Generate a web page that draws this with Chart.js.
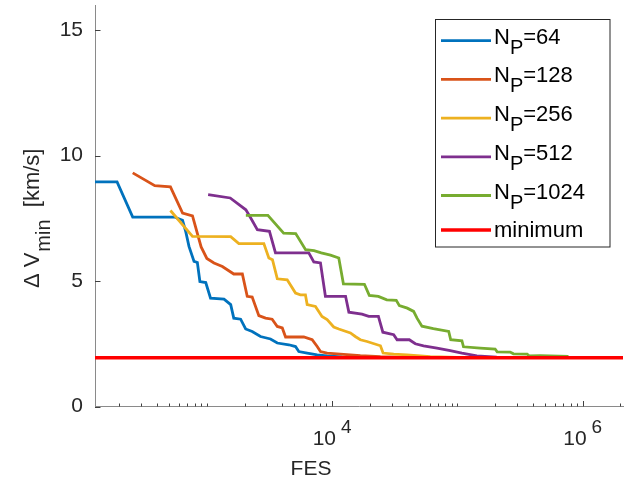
<!DOCTYPE html>
<html>
<head>
<meta charset="utf-8">
<script src="https://cdn.jsdelivr.net/npm/chart.js@4"></script>
<style>
html,body{margin:0;padding:0;background:#fff;}
#wrap{width:628px;height:481px;}
</style>
</head>
<body>
<div id="wrap"><canvas id="c" width="628" height="481"></canvas></div>
<script>
// ---------- data ----------
const seriesNames = ['64', '128', '256', '512', '1024'];
const minimumLabel = 'minimum';

const fes64 = [128, 192, 256, 550, 640, 680, 720, 790, 840, 880, 980, 1070, 1370, 1550, 1640, 1860, 2040, 2300, 2680, 3220, 3650, 4510, 5100, 5420, 6320, 7600, 9120, 12000, 16000, 40000];
const dv64  = [8.95, 8.95, 7.55, 7.55, 7.42, 6.95, 6.38, 5.78, 5.74, 4.98, 4.94, 4.32, 4.28, 4.06, 3.52, 3.48, 3.09, 2.99, 2.79, 2.69, 2.53, 2.46, 2.39, 2.19, 2.13, 2.06, 2.02, 1.98, 1.96, 1.95];

const fes128 = [256, 384, 512, 640, 768, 900, 1000, 1140, 1330, 1640, 1920, 2100, 2300, 2600, 2940, 3320, 3650, 4000, 4250, 5940, 6930, 7600, 8070, 9120, 11600, 16800, 24300, 40000, 100000];
const dv128  = [9.31, 8.80, 8.75, 7.71, 7.60, 6.36, 5.90, 5.72, 5.58, 5.28, 5.28, 4.39, 4.36, 3.62, 3.52, 3.48, 3.19, 3.13, 2.77, 2.77, 2.66, 2.39, 2.19, 2.13, 2.09, 2.03, 1.99, 1.96, 1.95];

const fes256 = [512, 768, 1550, 1800, 2850, 3125, 3340, 3650, 4380, 5100, 5580, 6120, 6320, 7360, 8300, 9120, 10300, 11300, 14000, 15300, 16800, 19000, 24300, 25500, 31000, 39600, 60700, 100000, 200000];
const dv256  = [7.81, 6.78, 6.77, 6.49, 6.49, 5.92, 5.85, 5.09, 5.05, 4.52, 4.45, 4.45, 4.06, 3.99, 3.59, 3.46, 3.17, 3.09, 2.93, 2.79, 2.66, 2.59, 2.42, 2.13, 2.09, 2.06, 1.99, 1.96, 1.95];

const fes512 = [1024, 1536, 2048, 2240, 2530, 3160, 3530, 6510, 7140, 8070, 8840, 12800, 13600, 17300, 19600, 23400, 25400, 31000, 33000, 41300, 46100, 53700, 68700, 87600, 108600, 143000, 206000, 400000];
const dv512  = [8.44, 8.31, 7.84, 7.51, 7.05, 6.98, 6.12, 6.12, 5.76, 5.72, 4.39, 4.39, 3.76, 3.68, 3.59, 3.59, 2.96, 2.86, 2.66, 2.66, 2.50, 2.42, 2.33, 2.23, 2.13, 2.02, 1.97, 1.95];

const fes1024 = [2048, 3070, 4100, 5120, 6140, 7170, 8190, 9700, 11300, 12300, 18100, 19800, 23400, 27300, 32500, 34400, 39800, 44700, 47600, 52100, 64200, 85200, 88400, 108600, 111800, 152000, 200000, 207600, 263500, 280000, 360000, 373000, 457000, 770000];
const dv1024  = [7.62, 7.62, 6.91, 6.89, 6.25, 6.21, 6.12, 6.03, 5.92, 4.89, 4.87, 4.43, 4.39, 4.25, 4.23, 4.02, 3.92, 3.79, 3.52, 3.20, 3.10, 2.99, 2.66, 2.62, 2.38, 2.33, 2.29, 2.18, 2.17, 2.10, 2.09, 2.02, 2.03, 2.00];

const minFes = [128, 2097152];
const minDv  = [1.94, 1.94];

const xMin = 128, xMax = 2097152;
const yMin = 0, yMax = 16;
const yTickValues = [0, 5, 10, 15];
const xLabelTicks = [10000, 1000000];
const xLabelExps = ['4', '6'];
const xTitle = 'FES';

// ---------- build ----------
const colors = ['#0072BD', '#D95319', '#EDB120', '#7E2F8E', '#77AC30'];
const fesList = [fes64, fes128, fes256, fes512, fes1024];
const dvList = [dv64, dv128, dv256, dv512, dv1024];
const zip = (a, b) => a.map((v, i) => ({x: v, y: b[i]}));

const datasets = seriesNames.map((n, i) => ({
  label: 'NP=' + n,
  data: zip(fesList[i], dvList[i]),
  borderColor: colors[i],
  backgroundColor: colors[i],
  borderWidth: 2.8,
  pointRadius: 0,
  tension: 0,
  fill: false,
  order: 6 - i
}));
datasets.push({
  label: minimumLabel,
  data: zip(minFes, minDv),
  borderColor: '#FF0000',
  backgroundColor: '#FF0000',
  borderWidth: 3.5,
  pointRadius: 0,
  tension: 0,
  fill: false,
  order: 0
});

const FONT = '"Liberation Sans", Arial, Helvetica, sans-serif';

const decor = {
  id: 'decor',
  afterDraw(chart) {
    const ctx = chart.ctx;
    const xs = chart.scales.x, ys = chart.scales.y;
    const area = chart.chartArea;
    ctx.save();
    // inward tick marks
    ctx.strokeStyle = '#404040';
    ctx.lineWidth = 1;
    ctx.beginPath();
    for (let n = 2; n <= 6; n++) {
      for (let k = 1; k <= 9; k++) {
        const v = k * Math.pow(10, n);
        if (v < xMin || v > xMax) continue;
        const px = Math.round(xs.getPixelForValue(v)) + 0.5;
        const major = xLabelTicks.includes(v);
        const len = major ? 5.5 : 3;
        ctx.moveTo(px, area.bottom);
        ctx.lineTo(px, area.bottom - len);
      }
    }
    yTickValues.forEach(v => {
      const py = Math.round(ys.getPixelForValue(v)) + 0.5;
      ctx.moveTo(area.left, py);
      ctx.lineTo(area.left + 5.5, py);
    });
    ctx.stroke();

    // x tick labels 10^n
    ctx.fillStyle = '#262626';
    ctx.textBaseline = 'alphabetic';
    ctx.textAlign = 'left';
    xLabelTicks.forEach((v, i) => {
      const px = xs.getPixelForValue(v);
      ctx.font = '21px ' + FONT;
      const w1 = ctx.measureText('10').width;
      ctx.font = '19px ' + FONT;
      const w2 = ctx.measureText(xLabelExps[i]).width;
      const gap = 5;
      const start = px - (w1 + gap + w2) / 2;
      ctx.font = '21px ' + FONT;
      ctx.fillText('10', start, 445);
      ctx.font = '19px ' + FONT;
      ctx.fillText(xLabelExps[i], start + w1 + gap, 433);
    });

    // x title
    ctx.font = '21px ' + FONT;
    ctx.textAlign = 'center';
    ctx.fillText(xTitle, 311, 475);

    // y title: ΔV_min [km/s]
    ctx.save();
    ctx.translate(39, 288);
    ctx.rotate(-Math.PI / 2);
    ctx.textAlign = 'left';
    ctx.font = '22px ' + FONT;
    let cx = 0;
    ctx.fillText('Δ', cx, 0); cx += ctx.measureText('Δ').width + 6;
    ctx.fillText('V', cx, 0); cx += ctx.measureText('V').width + 1;
    ctx.font = '20px ' + FONT;
    ctx.fillText('min', cx, 10.5); cx += ctx.measureText('min').width;
    ctx.font = '22px ' + FONT;
    ctx.fillText('  [km/s]', cx, 0);
    ctx.restore();

    // legend
    const bx = 435.5, by = 19.5, bw = 174.5, bh = 227.5;
    ctx.fillStyle = '#ffffff';
    ctx.fillRect(bx, by, bw, bh);
    ctx.strokeStyle = '#262626';
    ctx.lineWidth = 1;
    ctx.strokeRect(bx, by, bw, bh);
    const centers = [40.7, 79.4, 118.1, 156.8, 195.5, 230];
    chart.data.datasets.forEach((ds, i) => {
      const c = centers[i];
      ctx.strokeStyle = ds.borderColor;
      ctx.lineWidth = ds.borderWidth;
      ctx.beginPath();
      ctx.moveTo(441, c);
      ctx.lineTo(491, c);
      ctx.stroke();
      ctx.fillStyle = '#000000';
      ctx.textAlign = 'left';
      let tx = 494;
      if (i < seriesNames.length) {
        ctx.font = '22px ' + FONT;
        ctx.fillText('N', tx, c + 3); tx += ctx.measureText('N').width;
        ctx.font = '20px ' + FONT;
        ctx.fillText('P', tx, c + 13); tx += ctx.measureText('P').width;
        ctx.font = '22px ' + FONT;
        ctx.fillText('=' + seriesNames[i], tx, c + 3);
      } else {
        ctx.font = '22px ' + FONT;
        ctx.fillText(ds.label, tx, c + 6.5);
      }
    });
    ctx.restore();
  }
};

new Chart(document.getElementById('c'), {
  type: 'line',
  data: { datasets },
  options: {
    responsive: false,
    devicePixelRatio: 1,
    animation: false,
    layout: { padding: { left: 0, right: 5, top: 5, bottom: 0 } },
    plugins: { legend: { display: false }, tooltip: { enabled: false } },
    scales: {
      x: {
        type: 'logarithmic',
        min: xMin, max: xMax,
        grid: { display: false, drawTicks: false },
        border: { display: true, color: '#8a8a8a', width: 1 },
        ticks: { display: false },
        afterFit(s) { s.height = 74.5; s.paddingLeft = 0; s.paddingRight = 0; }
      },
      y: {
        type: 'linear',
        min: yMin, max: yMax,
        grid: { display: false, drawTicks: false },
        border: { display: true, color: '#8a8a8a', width: 1 },
        ticks: {
          stepSize: 5,
          padding: 12,
          color: '#262626',
          font: { family: FONT, size: 21 }
        },
        afterBuildTicks(s) { s.ticks = yTickValues.map(v => ({value: v})); },
        afterFit(s) { s.width = 95; s.paddingTop = 0; s.paddingBottom = 0; }
      }
    }
  },
  plugins: [decor]
});
</script>
</body>
</html>
